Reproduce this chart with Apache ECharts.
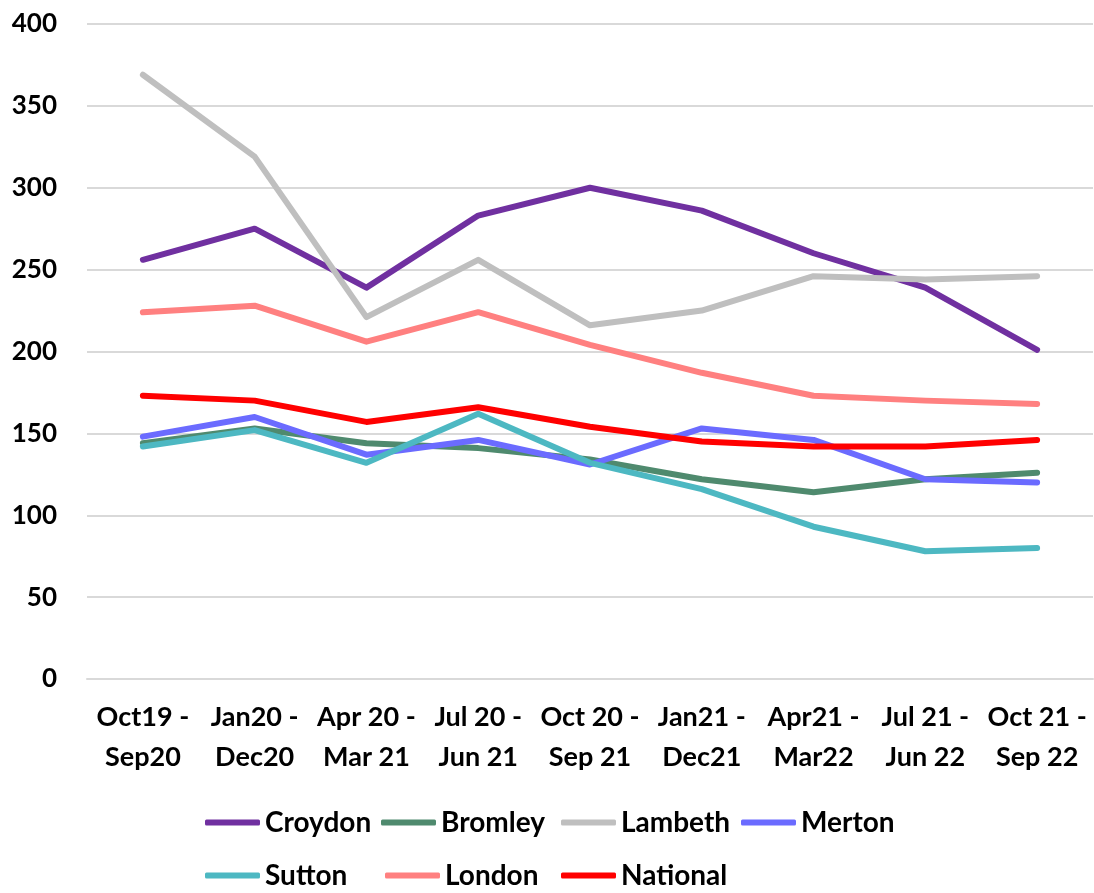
<!DOCTYPE html>
<html>
<head>
<meta charset="utf-8">
<script src="https://cdn.jsdelivr.net/npm/echarts@6/dist/echarts.min.js"></script>
<style>
    html, body { margin: 0; padding: 0; background: #fff; }
    #chart { width: 1094px; height: 893px; }
</style>
</head>
<body>
<div id="chart"></div>
<script>
// ---- data ----
const periods = ['Oct19 -\nSep20', 'Jan20 -\nDec20', 'Apr 20 -\nMar 21', 'Jul 20 -\nJun 21', 'Oct 20 -\nSep 21',
    'Jan21 -\nDec21', 'Apr21 -\nMar22', 'Jul 21 -\nJun 22', 'Oct 21 -\nSep 22'];
const croydon = [256, 275, 239, 283, 300, 286, 260, 239, 201];
const bromley = [144, 153, 144, 141, 134, 122, 114, 122, 126];
const lambeth = [369, 319, 221, 256, 216, 225, 246, 244, 246];
const merton = [148, 160, 137, 146, 131, 153, 146, 122, 120];
const sutton = [142, 152, 132, 162, 132, 116, 93, 78, 80];
const london = [224, 228, 206, 224, 204, 187, 173, 170, 168];
const national = [173, 170, 157, 166, 154, 145, 142, 142, 146];

const seriesDefs = [
    { name: 'Croydon', data: croydon, color: '#7030A0' },
    { name: 'Bromley', data: bromley, color: '#4F8A6E' },
    { name: 'Lambeth', data: lambeth, color: '#BFBFBF' },
    { name: 'Merton', data: merton, color: '#6B6BFF' },
    { name: 'Sutton', data: sutton, color: '#4DB8C2' },
    { name: 'London', data: london, color: '#FF8080' },
    { name: 'National', data: national, color: '#FF0000' },
];
// legend column widths so the two rows line up like the original
const legendWidths = [108, 112, 112, 100, 112, 108, 100];

const FONT = 'Lato, "Open Sans", sans-serif';

const chart = echarts.init(document.getElementById('chart'));
chart.setOption({
    animation: false,
    backgroundColor: '#fff',
    grid: { left: 87, right: 1, top: 24, bottom: 214, containLabel: false },
    xAxis: {
        type: 'category',
        data: periods,
        boundaryGap: true,
        axisLine: { show: true, lineStyle: { color: '#D9D9D9', width: 2 } },
        axisTick: { show: false },
        axisLabel: {
            color: '#000', fontSize: 27, fontWeight: 'bold', fontFamily: FONT,
            lineHeight: 40, margin: 18, interval: 0
        },
        splitLine: { show: false },
    },
    yAxis: {
        type: 'value',
        min: 0, max: 400, interval: 50,
        axisLine: { show: false },
        axisTick: { show: false },
        axisLabel: { color: '#000', fontSize: 26, fontWeight: 'bold', fontFamily: FONT, margin: 30 },
        splitLine: { lineStyle: { color: '#D9D9D9', width: 2 } },
    },
    legend: {
        left: 200, top: 795, width: 730,
        itemWidth: 55, itemHeight: 6, itemGap: 8,
        icon: 'roundRect',
        textStyle: { color: '#000', fontSize: 28, fontWeight: 'bold', fontFamily: FONT, lineHeight: 45 },
        data: seriesDefs.map((s, i) => ({
            name: s.name,
            textStyle: { width: legendWidths[i], overflow: 'none' },
        })),
    },
    series: seriesDefs.map(s => ({
        name: s.name,
        type: 'line',
        data: s.data,
        symbol: 'none',
        lineStyle: { color: s.color, width: 6, cap: 'round', join: 'round' },
        itemStyle: { color: s.color },
    })),
});
</script>
</body>
</html>
